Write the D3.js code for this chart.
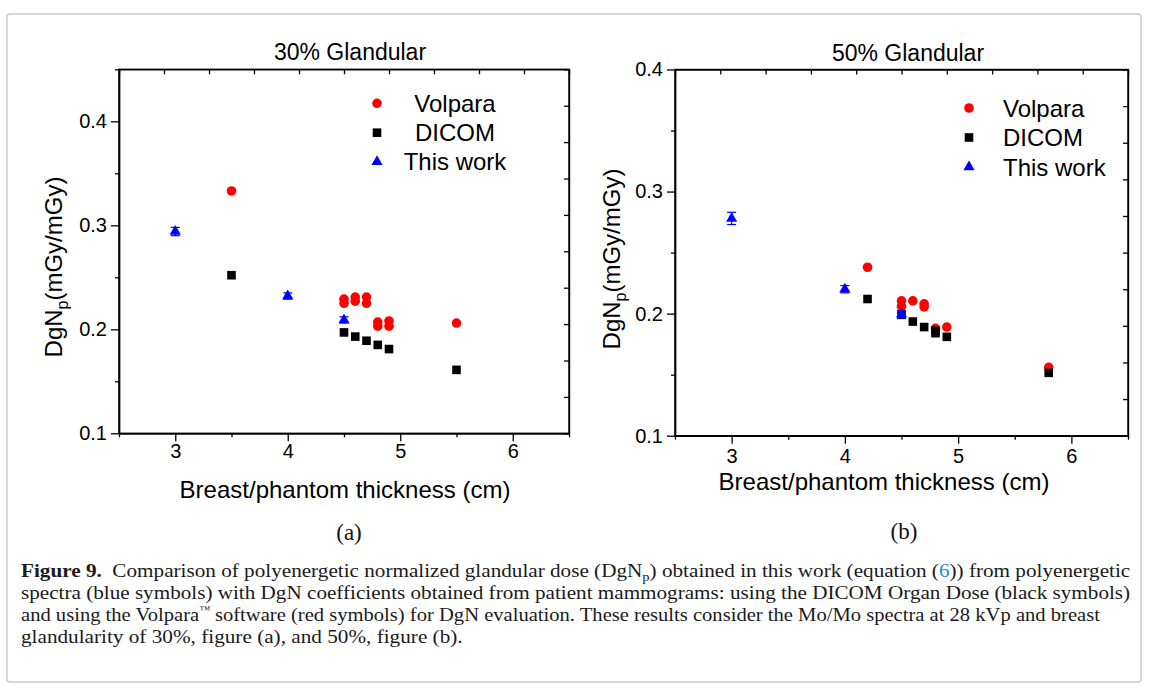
<!DOCTYPE html>
<html>
<head>
<meta charset="utf-8">
<script src="https://cdn.jsdelivr.net/npm/d3@7"></script>
<style>
  html, body { margin: 0; padding: 0; background: #fff; }
  svg { display: block; }
  .sans { font-family: "Liberation Sans", Arial, sans-serif; }
  .serif { font-family: "Liberation Serif", "Times New Roman", serif; }
</style>
</head>
<body>
<script>
// ---------------- DATA ----------------
const xTicks = [3, 4, 5, 6];
const yTicks = [0.1, 0.2, 0.3, 0.4];
const legendLabels = ["Volpara", "DICOM", "This work"];

// Panel (a): 30% Glandular
const volparaA_x = [3.5, 4.5, 4.5, 4.6, 4.6, 4.7, 4.7, 4.8, 4.8, 4.9, 4.9, 5.5];
const volparaA_y = [0.333, 0.229, 0.225, 0.231, 0.227, 0.231, 0.225, 0.207, 0.203, 0.208, 0.203, 0.206];
const dicomA_x = [3.5, 4.5, 4.6, 4.7, 4.8, 4.9, 5.5];
const dicomA_y = [0.252, 0.197, 0.193, 0.189, 0.185, 0.181, 0.161];
const thisA_x = [3.0, 4.0, 4.5];
const thisA_y = [0.294, 0.232, 0.209];
const thisA_err = [0.004, 0.003, 0.003];

// Panel (b): 50% Glandular
const volparaB_x = [4.2, 4.5, 4.5, 4.6, 4.7, 4.7, 4.8, 4.9, 5.8];
const volparaB_y = [0.238, 0.2105, 0.206, 0.2105, 0.208, 0.2055, 0.188, 0.189, 0.156];
const dicomB_x = [4.2, 4.5, 4.6, 4.7, 4.8, 4.8, 4.9, 5.8];
const dicomB_y = [0.212, 0.199, 0.1935, 0.189, 0.186, 0.184, 0.181, 0.1515];
const thisB_x = [3.0, 4.0, 4.5];
const thisB_y = [0.278, 0.220, 0.1995];
const thisB_err = [0.005, 0.003, 0.003];

// ---------------- LAYOUT ----------------
const W = 1149, H = 689;
const svg = d3.select("body").append("svg").attr("width", W).attr("height", H);

svg.append("rect").attr("x", 7).attr("y", 14).attr("width", 1134).attr("height", 668)
  .attr("rx", 3).attr("fill", "none").attr("stroke", "#c9c9c9").attr("stroke-width", 1.5);

const zip = (xs, ys) => xs.map((x, i) => ({x, y: ys[i]}));

const panels = [
  {
    title: "30% Glandular", titleX: 350, titleY: 60, tag: "(a)", tagX: 349, tagY: 540,
    xr: [119, 569], yr: [433.3, 69.3], yd: [0.1, 0.45], labPad: 3,
    xlabX: 345, xlabY: 498, ylabX: 62, ylabY: 267,
    volpara: zip(volparaA_x, volparaA_y), dicom: zip(dicomA_x, dicomA_y),
    thisw: thisA_x.map((x, i) => ({x, y: thisA_y[i], e: thisA_err[i]})),
    legSymX: 377, legY: [103.3, 132.7, 161.7], legTextX: 455, legAnchor: "middle"
  },
  {
    title: "50% Glandular", titleX: 908, titleY: 60.5, tag: "(b)", tagX: 904, tagY: 539,
    xr: [675, 1128], yr: [435.7, 69.5], yd: [0.1, 0.4], labPad: 5.5,
    xlabX: 884, xlabY: 490, ylabX: 620, ylabY: 259,
    volpara: zip(volparaB_x, volparaB_y), dicom: zip(dicomB_x, dicomB_y),
    thisw: thisB_x.map((x, i) => ({x, y: thisB_y[i], e: thisB_err[i]})),
    legSymX: 969, legY: [108, 137.5, 167], legTextX: 1003, legAnchor: "start"
  }
];

const symCircle = d3.symbol().type(d3.symbolCircle).size(72);
const symSquare = d3.symbol().type(d3.symbolSquare).size(74);
const symTri = d3.symbol().type(d3.symbolTriangle).size(54);

panels.forEach(p => {
  const x = d3.scaleLinear().domain([2.5, 6.5]).range(p.xr);
  const y = d3.scaleLinear().domain(p.yd).range(p.yr);
  const g = svg.append("g").attr("class", "sans");
  const x0 = p.xr[0], x1 = p.xr[1], y0 = p.yr[0], y1 = p.yr[1];

  // minor ticks
  const xMinor = d3.range(2.5, 6.51, 0.5).filter(v => !xTicks.some(t => Math.abs(t - v) < 1e-6));
  const yMinor = d3.range(p.yd[0], p.yd[1] + 1e-6, 0.05).filter(v => !yTicks.some(t => Math.abs(t - v) < 1e-6));

  g.append("g").attr("transform", `translate(0,${y0})`)
    .call(d3.axisBottom(x).tickValues(xTicks).tickSize(8).tickSizeOuter(0).tickPadding(p.labPad).tickFormat(d3.format("d")));
  g.append("g").attr("transform", `translate(0,${y0})`)
    .call(d3.axisBottom(x).tickValues(xMinor).tickSize(4).tickSizeOuter(0).tickFormat(""));
  g.append("g").attr("transform", `translate(${x0},0)`)
    .call(d3.axisLeft(y).tickValues(yTicks).tickSize(8).tickSizeOuter(0).tickPadding(4).tickFormat(d3.format(".1f")));
  g.append("g").attr("transform", `translate(${x0},0)`)
    .call(d3.axisLeft(y).tickValues(yMinor).tickSize(4).tickSizeOuter(0).tickFormat(""));

  // mirror axes (inward ticks, 10 divisions)
  const topVals = d3.range(11).map(i => 2.5 + i * 0.4);
  g.append("g").attr("transform", `translate(0,${y1})`)
    .call(d3.axisTop(x).tickValues(topVals).tickSize(-5).tickSizeOuter(0).tickFormat(""));
  const rightVals = d3.range(11).map(i => p.yd[0] + i * (p.yd[1] - p.yd[0]) / 10);
  g.append("g").attr("transform", `translate(${x1},0)`)
    .call(d3.axisRight(y).tickValues(rightVals).tickSize(-5).tickSizeOuter(0).tickFormat(""));

  g.selectAll(".domain").attr("stroke", "#000").attr("stroke-width", 1.4);
  g.selectAll(".tick line").attr("stroke", "#000").attr("stroke-width", 1.3);
  g.selectAll(".tick text").attr("font-size", 20).attr("fill", "#000")
    .attr("font-family", "'Liberation Sans', Arial, sans-serif");

  // frame
  g.append("rect").attr("x", x0).attr("y", y1).attr("width", x1 - x0).attr("height", y0 - y1)
    .attr("fill", "none").attr("stroke", "#000").attr("stroke-width", 1.4);

  // title
  g.append("text").attr("x", p.titleX).attr("y", p.titleY).attr("text-anchor", "middle")
    .attr("font-size", 23).text(p.title);

  // x label
  g.append("text").attr("x", p.xlabX).attr("y", p.xlabY).attr("text-anchor", "middle")
    .attr("font-size", 24).text("Breast/phantom thickness (cm)");

  // y label
  const yl = g.append("text").attr("transform", `translate(${p.ylabX},${p.ylabY}) rotate(-90)`)
    .attr("text-anchor", "middle").attr("font-size", 24);
  yl.append("tspan").text("DgN");
  yl.append("tspan").attr("font-size", 16).attr("dy", 6).text("p");
  yl.append("tspan").attr("dy", -6).text("(mGy/mGy)");

  // tag
  svg.append("text").attr("class", "serif").attr("x", p.tagX).attr("y", p.tagY)
    .attr("text-anchor", "middle").attr("font-size", 23).attr("fill", "#111").text(p.tag);

  // data: Volpara (red circles)
  g.selectAll(".vol").data(p.volpara).join("path").attr("class", "vol")
    .attr("d", symCircle).attr("fill", "#ff0000")
    .attr("transform", d => `translate(${x(d.x)},${y(d.y)})`);
  // DICOM (black squares)
  g.selectAll(".dic").data(p.dicom).join("path").attr("class", "dic")
    .attr("d", symSquare).attr("fill", "#000")
    .attr("transform", d => `translate(${x(d.x)},${y(d.y)})`);
  // This work (blue triangles with error bars)
  const eb = g.selectAll(".eb").data(p.thisw).join("g").attr("class", "eb").attr("stroke", "#0000ff").attr("stroke-width", 1.2);
  eb.append("line").attr("x1", d => x(d.x)).attr("x2", d => x(d.x)).attr("y1", d => y(d.y - d.e)).attr("y2", d => y(d.y + d.e));
  eb.append("line").attr("x1", d => x(d.x) - 4.5).attr("x2", d => x(d.x) + 4.5).attr("y1", d => y(d.y - d.e)).attr("y2", d => y(d.y - d.e));
  eb.append("line").attr("x1", d => x(d.x) - 4.5).attr("x2", d => x(d.x) + 4.5).attr("y1", d => y(d.y + d.e)).attr("y2", d => y(d.y + d.e));
  g.selectAll(".tw").data(p.thisw).join("path").attr("class", "tw")
    .attr("d", symTri).attr("fill", "#0000ff")
    .attr("transform", d => `translate(${x(d.x)},${y(d.y)})`);

  // legend
  const syms = [[symCircle, "#ff0000"], [symSquare, "#000"], [symTri, "#0000ff"]];
  legendLabels.forEach((lab, i) => {
    g.append("path").attr("d", syms[i][0]).attr("fill", syms[i][1])
      .attr("transform", `translate(${p.legSymX},${p.legY[i]})`);
    g.append("text").attr("x", p.legTextX).attr("y", p.legY[i]).attr("dy", "0.36em")
      .attr("text-anchor", p.legAnchor).attr("font-size", 24).text(lab);
  });
});

// ---------------- CAPTION ----------------
const capLines = [
  {y: 577, w: 1110, parts: [
    {t: "Figure 9.", b: true}, {t: "  Comparison of polyenergetic normalized glandular dose (DgN"},
    {t: "p", sub: true}, {t: ") obtained in this work (equation ("}, {t: "6", c: "#1f8ad2"},
    {t: ")) from polyenergetic"}]},
  {y: 599, w: 1110, parts: [
    {t: "spectra (blue symbols) with DgN coefficients obtained from patient mammograms: using the DICOM Organ Dose (black symbols)"}]},
  {y: 621, w: 1080, parts: [
    {t: "and using the Volpara"}, {t: "™", sup: true},
    {t: " software (red symbols) for DgN evaluation. These results consider the Mo/Mo spectra at 28 kVp and breast"}]},
  {y: 643, w: 442, parts: [
    {t: "glandularity of 30%, figure (a), and 50%, figure (b)."}]}
];
capLines.forEach(line => {
  const t = svg.append("text").attr("class", "serif").attr("font-size", 19).attr("fill", "#1a1a1a")
    .attr("x", 0).attr("y", 0).attr("xml:space", "preserve").style("white-space", "pre");
  let shift = 0;
  line.parts.forEach(pt => {
    const ts = t.append("tspan").text(pt.t);
    if (pt.b) ts.attr("font-weight", "bold");
    if (pt.c) ts.attr("fill", pt.c);
    if (pt.sub) { ts.attr("font-size", 13).attr("dy", 4 - shift); shift = 4; }
    else if (pt.sup) { ts.attr("font-size", 10).attr("dy", -8 - shift); shift = -8; }
    else if (shift !== 0) { ts.attr("dy", -shift); shift = 0; }
  });
  const w = t.node().getComputedTextLength();
  t.attr("transform", `translate(21,${line.y}) scale(${line.w / w},1)`);
});
</script>
</body>
</html>
